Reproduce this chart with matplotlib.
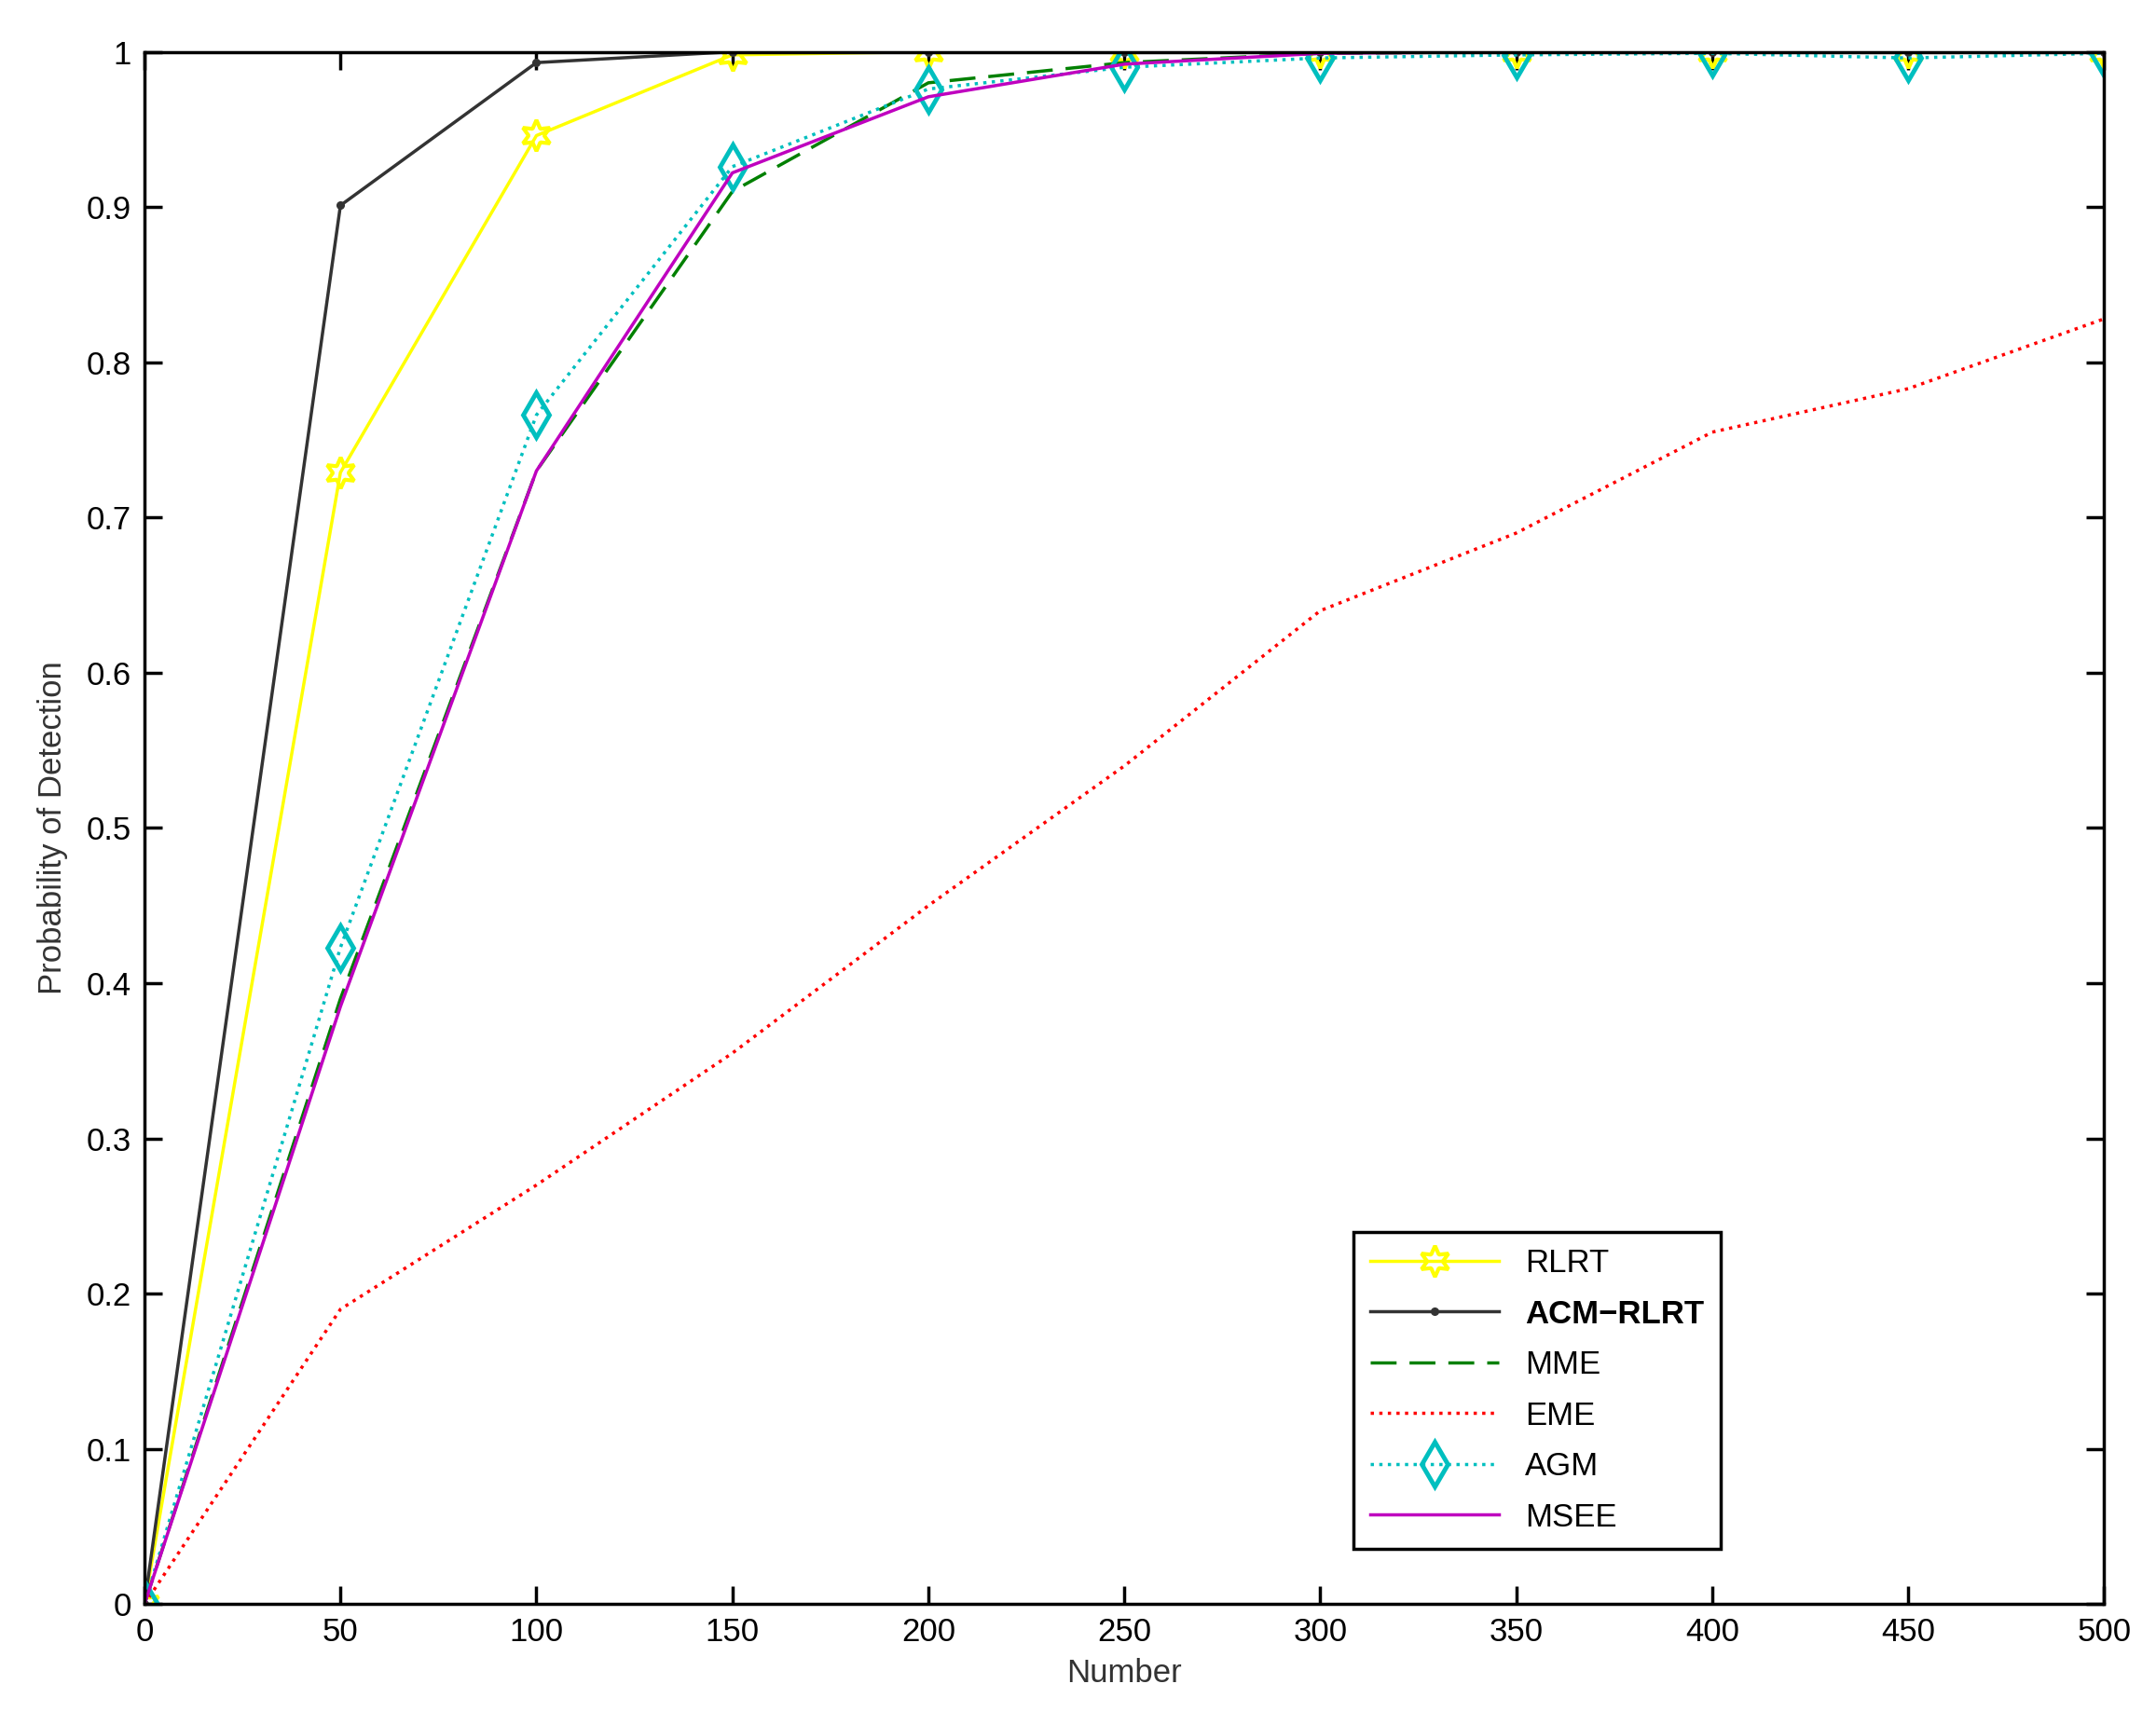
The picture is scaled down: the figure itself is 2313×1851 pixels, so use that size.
import matplotlib.pyplot as plt

x = [0, 50, 100, 150, 200, 250, 300, 350, 400, 450, 500]
rlrt = [0, 0.729, 0.946, 0.998, 1, 1, 1, 1, 1, 1, 1]
acm = [0, 0.901, 0.993, 1, 1, 1, 1, 1, 1, 1, 1]
mme = [0, 0.39, 0.73, 0.91, 0.98, 0.993, 0.999, 1, 1, 1, 1]
eme = [0, 0.19, 0.27, 0.355, 0.45, 0.54, 0.64, 0.69, 0.755, 0.783, 0.828]
agm = [0, 0.423, 0.766, 0.926, 0.976, 0.99, 0.996, 0.998, 0.999, 0.996, 0.999]
msee = [0, 0.385, 0.73, 0.922, 0.971, 0.992, 0.999, 1, 1, 1, 1]

plt.rcParams['font.family'] = ['Arial', 'Liberation Sans', 'DejaVu Sans']
fig = plt.figure(figsize=(23.13, 18.51), dpi=100)
ax = fig.add_axes([0.067, 0.07, 0.909, 0.9])

ax.plot(x, rlrt, color='#ffff00', lw=2.5, marker=(6, 1, 0), ms=24, mfc='none', mew=3, label='RLRT')
ax.plot(x, acm, color='#333333', lw=2.5, marker='.', ms=11, label='ACM\u2212RLRT')
ax.plot(x, mme, color='#008000', lw=2.5, ls=(0, (8, 4)), label='MME')
ax.plot(x, eme, color='#ff0000', lw=2.5, ls=':', label='EME')
ax.plot(x, agm, color='#00bfbf', lw=2.5, ls=':', marker='d', ms=24, mfc='none', mew=3.5, label='AGM')
ax.plot(x, msee, color='#bf00bf', lw=2.5, label='MSEE')

ax.set_xlim(0, 500)
ax.set_ylim(0, 1)
ax.set_xticks(x)
ax.set_yticks([i / 10 for i in range(11)])
ax.set_yticklabels(['0'] + [f'{i/10:g}' for i in range(1, 10)] + ['1'])
ax.tick_params(direction='in', top=True, right=True, labelsize=25, length=14, width=2.5, pad=10)
for s in ax.spines.values():
    s.set_linewidth(2.5)
ax.set_xlabel('Number', fontsize=25, color='#333333', labelpad=8)
ax.set_ylabel('Probability of Detection', fontsize=25, color='#333333', labelpad=14)

leg = ax.legend(loc='upper left', bbox_to_anchor=(0.617, 0.24), borderaxespad=0, fontsize=25,
                fancybox=False, edgecolor='black', handlelength=4, borderpad=0.5,
                labelspacing=0.62, framealpha=1)
leg.get_frame().set_linewidth(2.5)
leg.get_texts()[1].set_fontweight('bold')

fig.savefig('out.png', dpi=100)
